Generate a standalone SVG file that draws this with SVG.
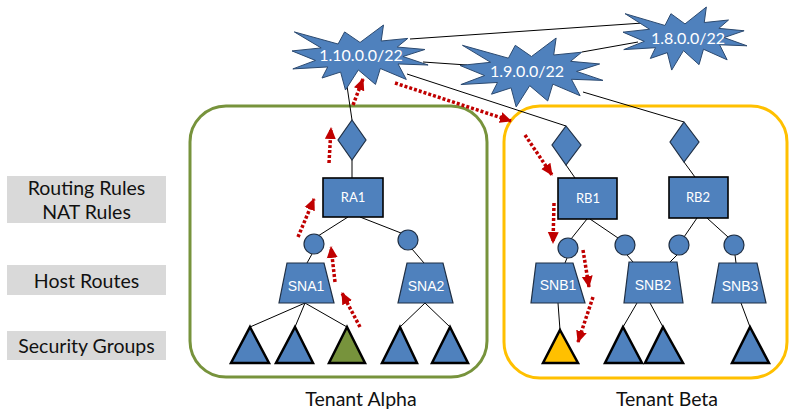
<svg xmlns="http://www.w3.org/2000/svg" xmlns:xlink="http://www.w3.org/1999/xlink" width="800" height="409" viewBox="0 0 800 409">
<style>
.bg{fill:#ffffff}
.conn line{stroke:#000;stroke-width:1;fill:none}
.node{fill:#4f81bd;stroke:#1f2f44;stroke-width:1.2}
.rect{fill:#4f81bd;stroke:#000;stroke-width:1.6}
.tri{stroke:#000;stroke-width:2.5;stroke-linejoin:miter}
.star{fill:#4f81bd;stroke:#2c4a70;stroke-width:1;vector-effect:non-scaling-stroke}
.lbl{font-family:Lato,"Open Sans","DejaVu Sans",sans-serif;fill:#fff;text-anchor:middle;dominant-baseline:central}
.lbl2{font-family:"Liberation Sans",Arial,sans-serif;fill:#fff;text-anchor:middle;dominant-baseline:central;font-size:14px}
.side{font-family:Lato,"Open Sans",sans-serif;font-size:19.5px;fill:#111;text-anchor:middle;dominant-baseline:central}
.flow path{stroke:#c00000;stroke-width:3.5;stroke-dasharray:3 2;fill:none;marker-end:url(#ah)}
</style>
<defs>
<polygon id="seal" points="108,58 145.22,0 141.55,53.25 183.8,44.57 167.02,73.15 210.97,81.37 176.07,104.75 216,132.9 168.37,129.42 181.45,180.95 140.2,144.57 132.47,197.37 105.32,149.35 84.85,216 77.15,156.27 47.62,176.17 56.67,139.37 1.35,145.87 37.22,117.75 0,86.15 46.27,76.17 3.7,22.95 73.12,63.2 83.52,22.95" class="star"/>
<marker id="ah" markerUnits="userSpaceOnUse" markerWidth="12" markerHeight="12" viewBox="0 0 12 12" refX="11" refY="6" orient="auto">
<path d="M0,0.5 L12,6 L0,11.5 Z" fill="#c00000"/>
</marker>
</defs>
<rect class="bg" x="0" y="0" width="800" height="409"/>

<g id="side-labels">
<rect x="7" y="176" width="159" height="47" fill="#d9d9d9"/>
<text class="side" x="86.5" y="187">Routing Rules</text>
<text class="side" x="86.5" y="211">NAT Rules</text>
<rect x="7" y="265" width="159" height="30" fill="#d9d9d9"/>
<text class="side" x="86.5" y="280">Host Routes</text>
<rect x="7" y="331" width="159" height="29" fill="#d9d9d9"/>
<text class="side" x="86.5" y="345">Security Groups</text>
</g>

<g id="tenant-alpha">
<rect x="190" y="106" width="297" height="271" rx="36" fill="none" stroke="#77933c" stroke-width="3"/>
<text class="side" x="361" y="398">Tenant Alpha</text>
</g>
<g id="tenant-beta">
<rect x="504" y="106" width="283" height="272" rx="36" fill="none" stroke="#ffc000" stroke-width="3"/>
<text class="side" x="667" y="398">Tenant Beta</text>
</g>

<g id="connectors" class="conn">
<line x1="410" y1="39" x2="643" y2="23"/>
<line x1="423" y1="62" x2="467" y2="65"/>
<line x1="582" y1="52" x2="638" y2="42"/>
<line x1="407" y1="74" x2="566" y2="126"/>
<line x1="583" y1="92" x2="684" y2="122"/>
<line x1="347" y1="86" x2="352" y2="120"/>
<line x1="352" y1="160" x2="352" y2="178"/>
<line x1="348" y1="217" x2="318" y2="236"/>
<line x1="360" y1="217" x2="401" y2="233"/>
<line x1="312" y1="254" x2="307" y2="263"/>
<line x1="412" y1="249" x2="424" y2="263"/>
<line x1="305" y1="303" x2="250" y2="327"/>
<line x1="305" y1="303" x2="295" y2="327"/>
<line x1="305" y1="303" x2="347" y2="327"/>
<line x1="425" y1="303" x2="400" y2="327"/>
<line x1="425" y1="303" x2="450" y2="327"/>
<line x1="566" y1="165" x2="575" y2="178"/>
<line x1="684" y1="162" x2="695" y2="177"/>
<line x1="587" y1="219" x2="571" y2="239"/>
<line x1="590" y1="219" x2="618" y2="238"/>
<line x1="697" y1="218" x2="684" y2="237"/>
<line x1="707" y1="218" x2="728" y2="237"/>
<line x1="567" y1="258" x2="565" y2="263"/>
<line x1="627" y1="255" x2="633" y2="262"/>
<line x1="677" y1="255" x2="670" y2="262"/>
<line x1="735" y1="255" x2="736" y2="263"/>
<line x1="558" y1="303" x2="560" y2="330"/>
<line x1="637" y1="303" x2="623" y2="327"/>
<line x1="650" y1="303" x2="663" y2="327"/>
<line x1="741" y1="303" x2="750" y2="327"/>
</g>

<g id="net-1-10">
<use xlink:href="#seal" transform="translate(292,25) scale(0.63,0.301)"/>
<text class="lbl" x="361" y="54" font-size="16">1.10.0.0/22</text>
</g>
<g id="net-1-9">
<use xlink:href="#seal" transform="translate(460,38) scale(0.662,0.319)"/>
<text class="lbl" x="527" y="70" font-size="16">1.9.0.0/22</text>
</g>
<g id="net-1-8">
<use xlink:href="#seal" transform="translate(623,7) scale(0.574,0.292)"/>
<text class="lbl" x="688" y="37" font-size="16">1.8.0.0/22</text>
</g>

<g id="gw-alpha"><polygon class="node" points="352,120 366,140 352,160 338,140"/></g>
<g id="gw-rb1"><polygon class="node" points="566,126 581,145 566,165 552,145"/></g>
<g id="gw-rb2"><polygon class="node" points="684,122 699,142 684,162 670,142"/></g>

<g id="RA1"><rect class="rect" x="323" y="178" width="60" height="39"/><text class="lbl" x="353" y="197" font-size="13">RA1</text></g>
<g id="RB1"><rect class="rect" x="558" y="178" width="59" height="41"/><text class="lbl" x="588" y="198" font-size="13">RB1</text></g>
<g id="RB2"><rect class="rect" x="669" y="177" width="59" height="41"/><text class="lbl" x="698" y="197" font-size="13">RB2</text></g>

<g id="hr-a1"><circle class="node" cx="314" cy="244" r="10"/></g>
<g id="hr-a2"><circle class="node" cx="408" cy="240" r="10"/></g>
<g id="hr-b1"><circle class="node" cx="568" cy="248" r="10"/></g>
<g id="hr-b2"><circle class="node" cx="625" cy="245" r="10"/></g>
<g id="hr-b3"><circle class="node" cx="679" cy="245" r="10"/></g>
<g id="hr-b4"><circle class="node" cx="734" cy="245" r="10"/></g>

<g id="SNA1"><polygon class="node" points="287,263 324,263 334,303 279,303" stroke="#385d8a"/><text class="lbl2" x="306" y="286">SNA1</text></g>
<g id="SNA2"><polygon class="node" points="407,263 443,263 453,303 398,303" stroke="#385d8a"/><text class="lbl2" x="426" y="286">SNA2</text></g>
<g id="SNB1"><polygon class="node" points="536,263 573,263 585,303 531,303" stroke="#385d8a"/><text class="lbl2" x="558" y="285">SNB1</text></g>
<g id="SNB2"><polygon class="node" points="629,262 677,262 683,303 624,303" stroke="#385d8a"/><text class="lbl2" x="653" y="285">SNB2</text></g>
<g id="SNB3"><polygon class="node" points="719,263 757,263 766,303 712,303" stroke="#385d8a"/><text class="lbl2" x="740" y="286">SNB3</text></g>

<g id="sg-a1"><polygon class="tri" fill="#4f81bd" points="250,327 269,363 231,363"/></g>
<g id="sg-a2"><polygon class="tri" fill="#4f81bd" points="295,327 313,363 276,363"/></g>
<g id="sg-a3"><polygon class="tri" fill="#77933c" points="347,327 365,363 329,363"/></g>
<g id="sg-a4"><polygon class="tri" fill="#4f81bd" points="400,327 417,363 382,363"/></g>
<g id="sg-a5"><polygon class="tri" fill="#4f81bd" points="450,327 468,363 432,363"/></g>
<g id="sg-b1"><polygon class="tri" fill="#ffc000" points="560,330 578,363 543,363"/></g>
<g id="sg-b2"><polygon class="tri" fill="#4f81bd" points="623,327 642,363 605,363"/></g>
<g id="sg-b3"><polygon class="tri" fill="#4f81bd" points="663,327 683,363 645,363"/></g>
<g id="sg-b4"><polygon class="tri" fill="#4f81bd" points="750,327 769,363 732,363"/></g>

<g id="traffic-flow" class="flow">
<path d="M353,105 L363,79"/>
<path d="M329,163 L331,128"/>
<path d="M298,237 L314,199"/>
<path d="M335,282 L331,247"/>
<path d="M360,327 L342,293"/>
<path d="M395,83 L511,121"/>
<path d="M525,135 L552,175"/>
<path d="M554,203 L553,243"/>
<path d="M583,250 L589,287"/>
<path d="M593,297 L578,342"/>
</g>
</svg>
